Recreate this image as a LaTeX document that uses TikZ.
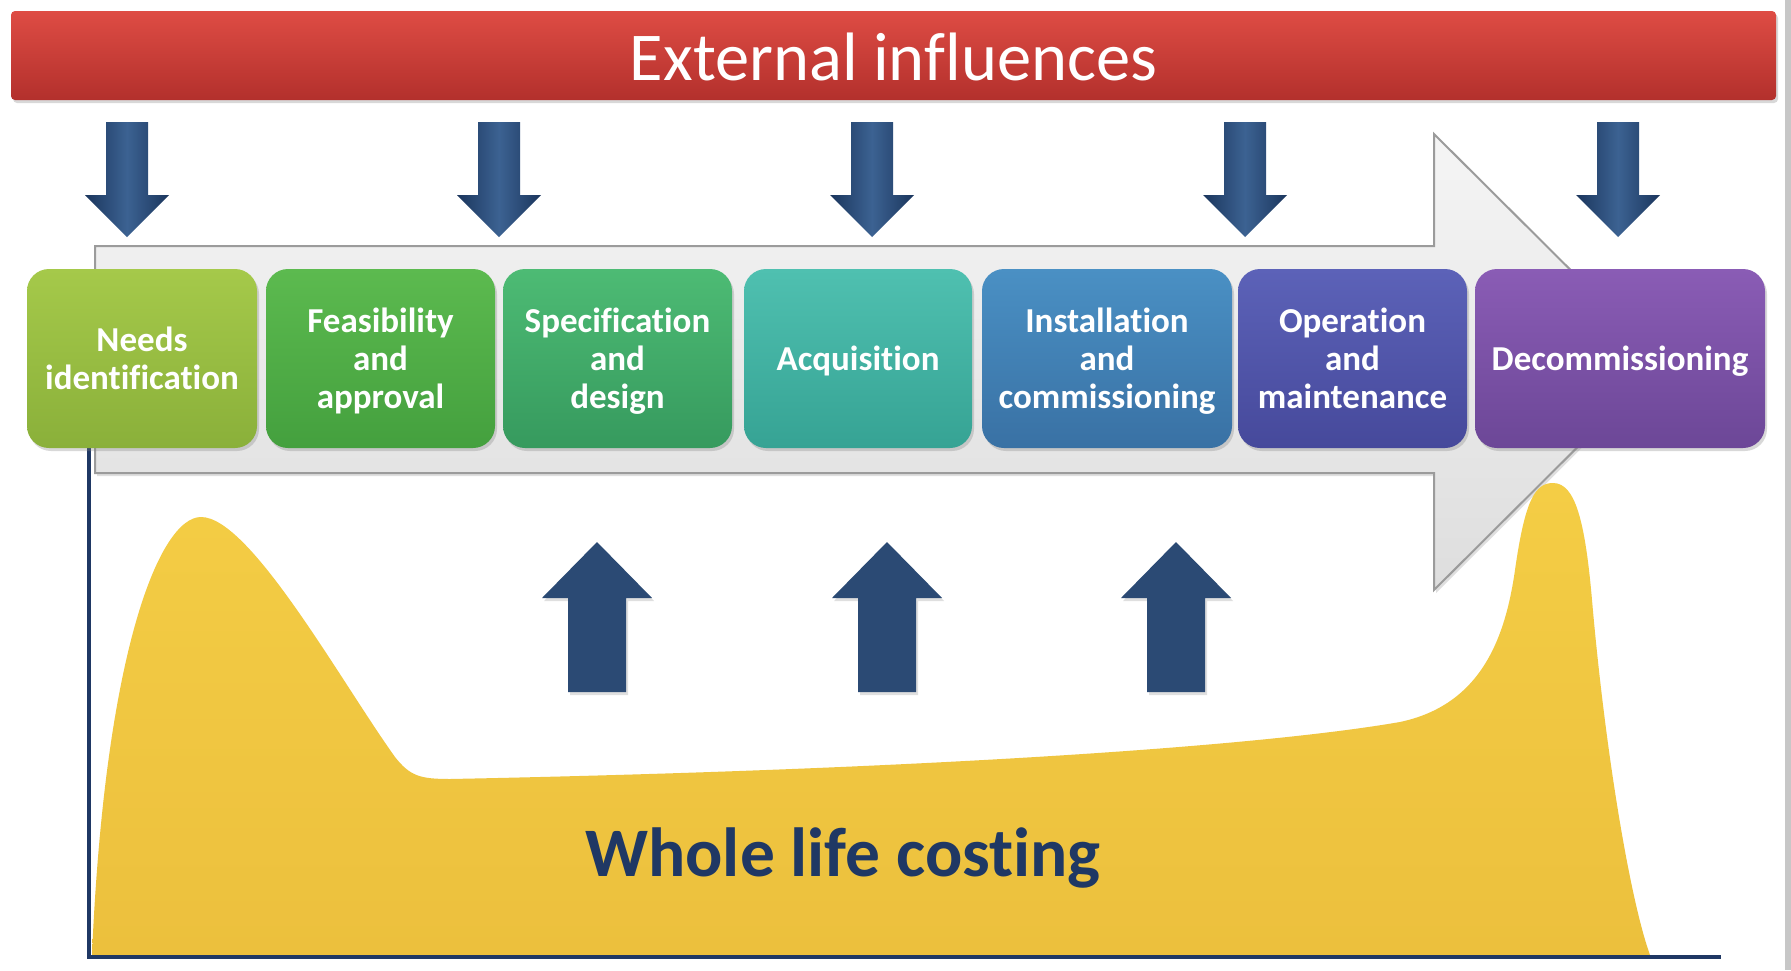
\documentclass[tikz,border=0pt]{standalone}
\usepackage{fontspec}
\setmainfont{Carlito}[Ligatures=NoCommon]
\usetikzlibrary{shadows}
\definecolor{navy}{HTML}{1F3864}
\definecolor{arrowdark}{HTML}{1B365D}
\definecolor{arrowlight}{HTML}{3C6292}
\definecolor{uparrow}{HTML}{2B4A74}
\definecolor{redtop}{HTML}{DE4C44}
\definecolor{redbot}{HTML}{B3302C}
\definecolor{greyedge}{HTML}{9B9B9B}
\definecolor{yellowtop}{HTML}{F4CD45}
\definecolor{yellowbot}{HTML}{ECC03D}
\definecolor{c1t}{HTML}{A5C94A}\definecolor{c1b}{HTML}{8AB03A}
\definecolor{c2t}{HTML}{5CBA4F}\definecolor{c2b}{HTML}{44A03E}
\definecolor{c3t}{HTML}{4DBB74}\definecolor{c3b}{HTML}{369A5E}
\definecolor{c4t}{HTML}{4FC0B0}\definecolor{c4b}{HTML}{36A394}
\definecolor{c5t}{HTML}{4A90C4}\definecolor{c5b}{HTML}{3971A4}
\definecolor{c6t}{HTML}{5C62B8}\definecolor{c6b}{HTML}{46499B}
\definecolor{c7t}{HTML}{8A5CB5}\definecolor{c7b}{HTML}{6C4797}
\begin{document}
\begin{tikzpicture}[x=1pt,y=-1pt,
  stagebox/.style={rounded corners=22pt, minimum height=179pt, align=center,
    text=white, inner sep=0pt, text depth=0pt,
    font=\bfseries\fontsize{35}{38}\selectfont,
    drop shadow={opacity=0.3, shadow xshift=2pt, shadow yshift=-3pt}},
  downarrow/.style={left color=arrowdark, right color=arrowdark, middle color=arrowlight},
  uparrowstyle/.style={fill=uparrow, drop shadow={opacity=0.25, shadow xshift=2pt, shadow yshift=-3pt}},
]
\useasboundingbox (0,0) rectangle (1791,970);
\fill[white] (0,0) rectangle (1791,970);
\fill[black!22] (1785,0) rectangle (1791,970);

% red bar
\shade[top color=redtop, bottom color=redbot, rounded corners=4pt,
  drop shadow={opacity=0.3, shadow xshift=2pt, shadow yshift=-3pt}]
  (11,11) rectangle (1776,100);
\node[anchor=base, text=white, font=\fontsize{68.5}{80}\selectfont] (title) at (893.5,80) {External influences};

% down arrows
\foreach \c in {127,499,872,1245,1618} {
  \shade[downarrow] (\c-21,122) -- (\c+21,122) -- (\c+21,195) -- (\c+42,195)
    -- (\c,237) -- (\c-42,195) -- (\c-21,195) -- cycle;
}

% big grey process arrow
\shade[top color=black!4, bottom color=black!13, draw=greyedge, line width=2pt,
  drop shadow={opacity=0.25, shadow xshift=2pt, shadow yshift=-3pt}]
  (95,246) -- (1434,246) -- (1434,134) -- (1663,362) -- (1434,590)
  -- (1434,473) -- (95,473) -- cycle;

% whole life cost curve
\shade[top color=yellowtop, bottom color=yellowbot]
  (92,955) .. controls (105,650) and (160,517) .. (201,517)
  .. controls (250,517) and (340,680) .. (395,757)
  .. controls (410,776) and (420,779) .. (450,779)
  .. controls (900,770) and (1250,748) .. (1400,722)
  .. controls (1480,705) and (1505,640) .. (1515,570)
  .. controls (1525,500) and (1535,483) .. (1553,483)
  .. controls (1575,483) and (1585,520) .. (1592,600)
  .. controls (1605,750) and (1630,900) .. (1650,955) -- cycle;

% axes
\draw[navy, line width=4pt, line join=miter] (89,448) -- (89,957) -- (1721,957);

% stages
\node[stagebox, minimum width=230pt, top color=c1t, bottom color=c1b] (needs) at (142,358.5) {Needs\\identification};
\node[stagebox, minimum width=229pt, top color=c2t, bottom color=c2b] (feas) at (380.5,358.5) {Feasibility\\and\\approval};
\node[stagebox, minimum width=229pt, top color=c3t, bottom color=c3b] (spec) at (617.5,358.5) {Specification\\and\\design};
\node[stagebox, minimum width=228pt, top color=c4t, bottom color=c4b] (acq) at (858,358.5) {Acquisition};
\node[stagebox, minimum width=250pt, top color=c5t, bottom color=c5b] (inst) at (1107,358.5) {Installation\\and\\commissioning};
\node[stagebox, minimum width=229pt, top color=c6t, bottom color=c6b] (oper) at (1352.5,358.5) {Operation\\and\\maintenance};
\node[stagebox, minimum width=290pt, top color=c7t, bottom color=c7b] (decom) at (1620,358.5) {Decommissioning};

% up arrows
\foreach \c in {597,887,1176} {
  \path[uparrowstyle] (\c,542) -- (\c+55,598) -- (\c+29,598) -- (\c+29,692)
    -- (\c-29,692) -- (\c-29,598) -- (\c-55,598) -- cycle;
}

\node[anchor=base, text=navy, font=\bfseries\fontsize{69.5}{80}\selectfont] (wlc) at (843,876) {Whole life costing};
\end{tikzpicture}
\end{document}
